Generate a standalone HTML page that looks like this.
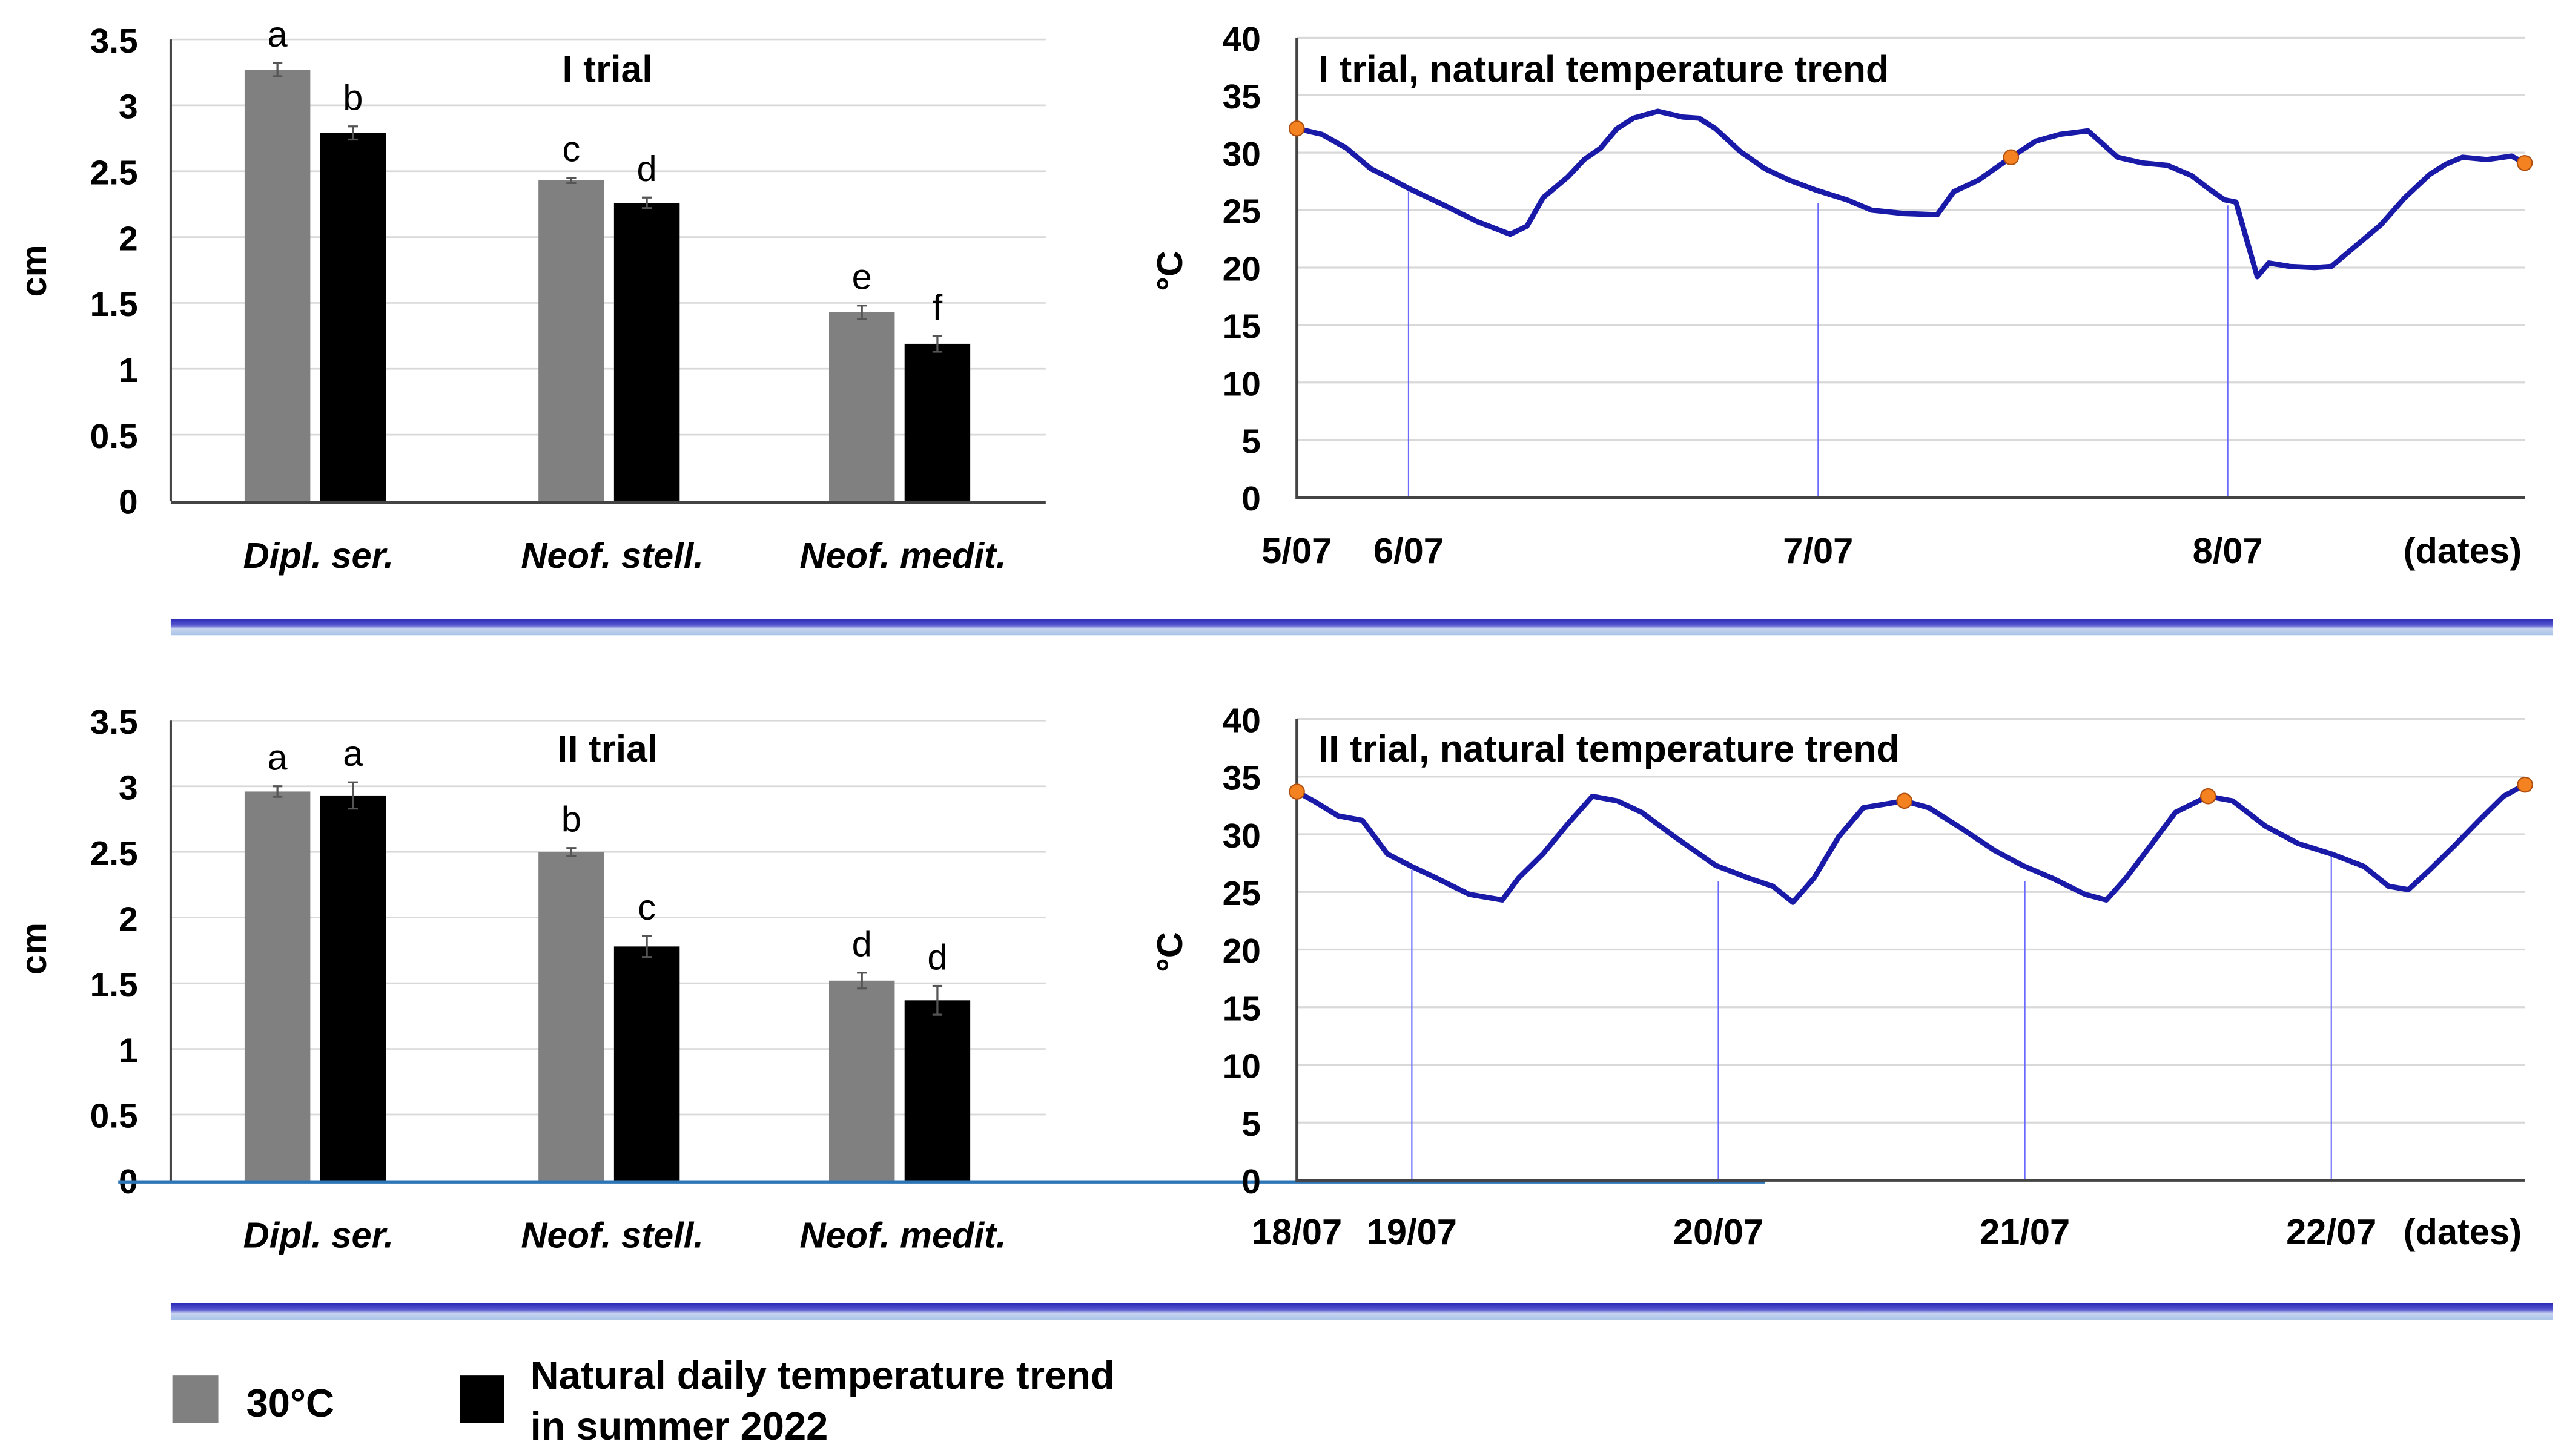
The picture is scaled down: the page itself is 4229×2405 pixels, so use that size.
<!DOCTYPE html>
<html><head><meta charset="utf-8"><style>
html,body{margin:0;padding:0;background:#fff;}
svg{display:block;}
text{font-family:"Liberation Sans",sans-serif;font-weight:bold;fill:#000;}
</style></head><body>
<svg id="fig" width="4229" height="2405" viewBox="0 0 1560 887" preserveAspectRatio="none">
<defs>
<linearGradient id="div" x1="0" y1="0" x2="0" y2="1">
<stop offset="0" stop-color="#2a2ab8"/><stop offset="0.4" stop-color="#5a5ad0"/><stop offset="0.6" stop-color="#c8d4f0"/><stop offset="1" stop-color="#a8c4e8"/>
</linearGradient>
</defs>
<rect x="104" y="377" width="1451" height="10" fill="url(#div)"/>
<rect x="104" y="794" width="1451" height="10" fill="url(#div)"/>
<g id="legend">
<rect x="105" y="838" width="28" height="29" fill="#808080"/>
<text x="150" y="863" font-size="24">30°C</text>
<rect x="280" y="838" width="27" height="29" fill="#000"/>
<text x="323" y="846" font-size="24">Natural daily temperature trend</text>
<text x="323" y="877" font-size="24">in summer 2022</text>
</g>
</svg>
<script>
const NS="http://www.w3.org/2000/svg";
const svg=document.getElementById('fig');
function mk(tag,attrs,parent){const e=document.createElementNS(NS,tag);for(const k in attrs)e.setAttribute(k,attrs[k]);(parent||svg).appendChild(e);return e;}

// ---- bar chart data ----
const categories=["Dipl. ser.","Neof. stell.","Neof. medit."];
const bar1Gray=[3.27,2.43,1.43];
const bar1Black=[2.79,2.26,1.19];
const err1Gray=[0.05,0.02,0.05];
const err1Black=[0.05,0.04,0.06];
const let1Gray=["a","c","e"];
const let1Black=["b","d","f"];
const bar2Gray=[2.96,2.50,1.52];
const bar2Black=[2.93,1.78,1.37];
const err2Gray=[0.04,0.03,0.06];
const err2Black=[0.10,0.08,0.11];
const let2Gray=["a","b","d"];
const let2Black=["a","c","d"];
const barTicks=[0,0.5,1,1.5,2,2.5,3,3.5];

// ---- temperature data (day index, °C) ----
const t1Days=[0.727,0.788,0.848,0.908,0.948,1.0,1.088,1.168,1.248,1.289,1.329,1.389,1.429,1.469,1.509,1.549,1.609,1.669,1.709,1.749,1.810,1.870,1.930,1.998,2.070,2.130,2.210,2.291,2.331,2.391,2.471,2.531,2.591,2.659,2.731,2.792,2.852,2.912,2.952,2.992,3.020,3.072,3.100,3.152,3.212,3.253,3.313,3.373,3.433,3.493,3.533,3.573,3.633,3.693,3.725];
const t1Temps=[32.1,31.6,30.4,28.6,27.9,26.9,25.4,24.0,22.9,23.6,26.1,27.9,29.4,30.4,32.1,33.0,33.6,33.1,33.0,32.1,30.1,28.6,27.6,26.7,25.9,25.0,24.7,24.6,26.6,27.6,29.6,31.0,31.6,31.9,29.6,29.1,28.9,28.0,26.9,25.9,25.7,19.2,20.4,20.1,20.0,20.1,21.9,23.7,26.1,28.1,29.0,29.6,29.4,29.7,29.1];
const t1Marks=[0,30,54];
const t1DateLabels=["5/07","6/07","7/07","8/07"];
const t1DatePos=[0.727,1,2,3];
const t2Days=[0.625,0.679,0.759,0.839,0.920,1.0,1.080,1.187,1.295,1.348,1.428,1.509,1.589,1.670,1.750,1.857,1.991,2.098,2.178,2.243,2.312,2.393,2.473,2.607,2.687,2.794,2.901,2.992,3.089,3.196,3.266,3.330,3.410,3.491,3.598,3.678,3.785,3.892,4.0,4.107,4.187,4.251,4.321,4.401,4.482,4.562,4.632];
const t2Temps=[33.7,32.9,31.6,31.2,28.3,27.2,26.2,24.8,24.3,26.2,28.3,30.9,33.3,32.9,31.9,29.8,27.3,26.2,25.5,24.1,26.2,29.8,32.3,32.9,32.3,30.5,28.6,27.3,26.2,24.8,24.3,26.2,29.0,31.9,33.3,32.9,30.7,29.2,28.3,27.2,25.5,25.2,26.9,29.0,31.2,33.3,34.3];
const t2Marks=[0,23,34,46];
const t2DateLabels=["18/07","19/07","20/07","21/07","22/07"];
const t2DatePos=[0.625,1,2,3,4];
const tempTicks=[0,5,10,15,20,25,30,35,40];

function barChart(o){
  const g=mk('g',{});
  
  
  const y=v=>o.y0-(v/3.5)*(o.y0-o.ytop);
  barTicks.forEach(t=>{
    if(t>0){const l=mk('line',{x1:104,x2:637,y1:y(t),y2:y(t),stroke:'#d9d9d9','stroke-width':1},g);
      }
    const tx=mk('text',{x:84,y:y(t)+8,'font-size':21,'text-anchor':'end'},g);tx.textContent=String(t);
    
  });
  const ax=mk('line',{x1:104,x2:104,y1:o.ytop,y2:o.y0,stroke:'#444','stroke-width':1.5},g);
  
  const xa=mk('line',{x1:o.xaStart,x2:o.xaEnd,y1:o.y0+1,y2:o.y0+1,stroke:o.xaColor,'stroke-width':2},g);
  
  const gx=[149,328,505];
  categories.forEach((c,i)=>{
    [[o.gray,o.eg,o.lg,'#808080',0,'bar-30c'],[o.black,o.eb,o.lb,'#000',46,'bar-natural']].forEach(s=>{
      const v=s[0][i],x=gx[i]+s[4],w=40;
      const r=mk('rect',{x:x,y:y(v),width:w,height:o.y0-y(v),fill:s[3]},g);
      
      const e=s[1][i],cx=x+w/2;
      const el=mk('path',{d:`M${cx},${y(v+e)}V${y(v-e)}M${cx-3},${y(v+e)}H${cx+3}M${cx-3},${y(v-e)}H${cx+3}`,stroke:'#555','stroke-width':1.2,fill:'none'},g);
      
      const lt=mk('text',{x:cx,y:y(v+e)-10,'font-size':22,'text-anchor':'middle',style:'font-weight:normal'},g);lt.textContent=s[2][i];
      
    });
    const cl=mk('text',{x:gx[i]+45,y:o.labY,'font-size':22,'text-anchor':'middle','font-style':'italic'},g);cl.textContent=c;
    
  });
  const tt=mk('text',{x:370,y:o.titleY,'font-size':23,'text-anchor':'middle'},g);tt.textContent=o.title;
  
  const yl=mk('text',{x:0,y:0,'font-size':22,'text-anchor':'middle',transform:`translate(28,${o.labCmY}) rotate(-90)`},g);yl.textContent='cm';
  
}

function tempChart(o){
  const g=mk('g',{});
  
  
  const y=v=>o.y0-(v/40)*(o.y0-o.ytop);
  const x=d=>o.x1+(d-1)*o.dw;
  tempTicks.forEach(t=>{
    if(t>0){const l=mk('line',{x1:790,x2:1538,y1:y(t),y2:y(t),stroke:'#d9d9d9','stroke-width':1.2},g);
      }
    const tx=mk('text',{x:768,y:y(t)+8,'font-size':21,'text-anchor':'end'},g);tx.textContent=String(t);
    
  });
  o.datePos.forEach((d,i)=>{
    if(i>0){const vl=mk('line',{x1:x(d),x2:x(d),y1:y(o.temps[o.days.findIndex(v=>v>=d)])+2,y2:o.y0,stroke:'#6a6aff','stroke-width':0.8},g);
      }
    const dl=mk('text',{x:x(d),y:o.labY,'font-size':22,'text-anchor':'middle'},g);dl.textContent=o.dateLabels[i];
    
  });
  const dt=mk('text',{x:1500,y:o.labY,'font-size':22,'text-anchor':'middle'},g);dt.textContent='(dates)';
  
  const ax=mk('path',{d:`M790,${o.ytop}V${o.y0}H1538`,stroke:'#444','stroke-width':1.8,fill:'none'},g);
  
  const pts=o.days.map((d,i)=>x(d).toFixed(1)+','+y(o.temps[i]).toFixed(1)).join(' ');
  const pl=mk('polyline',{points:pts,fill:'none',stroke:'#1a1aa8','stroke-width':3.2,'stroke-linejoin':'round'},g);
  
  o.marks.forEach(i=>{
    const c=mk('circle',{cx:x(o.days[i]),cy:y(o.temps[i]),r:4.5,fill:'#f58220',stroke:'#b05010','stroke-width':0.8},g);
    
  });
  const tt=mk('text',{x:803,y:o.titleY,'font-size':23},g);tt.textContent=o.title;
  
  const yl=mk('text',{x:0,y:0,'font-size':22,'text-anchor':'middle',transform:`translate(720,${o.labCY}) rotate(-90)`},g);yl.textContent='°C';
  
}

barChart({name:'bar-chart-trial-1',ytop:24,y0:305,gray:bar1Gray,black:bar1Black,eg:err1Gray,eb:err1Black,lg:let1Gray,lb:let1Black,labY:346,title:'I trial',titleY:50,labCmY:165,xaStart:104,xaEnd:637,xaColor:'#444'});
barChart({name:'bar-chart-trial-2',ytop:439,y0:719,gray:bar2Gray,black:bar2Black,eg:err2Gray,eb:err2Black,lg:let2Gray,lb:let2Black,labY:760,title:'II trial',titleY:464,labCmY:578,xaStart:72,xaEnd:1075,xaColor:'#2e75b6'});
tempChart({name:'temperature-chart-trial-1',ytop:23,y0:303,x1:858,dw:249.5,days:t1Days,temps:t1Temps,marks:t1Marks,dateLabels:t1DateLabels,datePos:t1DatePos,labY:343,title:'I trial, natural temperature trend',titleY:50,labCY:165});
tempChart({name:'temperature-chart-trial-2',ytop:438,y0:719,x1:860,dw:186.7,days:t2Days,temps:t2Temps,marks:t2Marks,dateLabels:t2DateLabels,datePos:t2DatePos,labY:758,title:'II trial, natural temperature trend',titleY:464,labCY:580});
</script>
</body></html>
